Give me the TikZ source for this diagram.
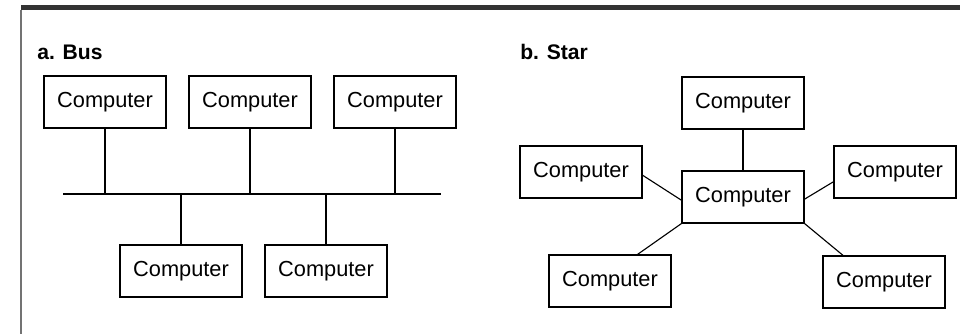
\documentclass[tikz,border=0pt]{standalone}
\usepackage{fontspec}
\setmainfont{Liberation Sans}
\usepackage{tikz}

\begin{document}
\begin{tikzpicture}[x=0.025cm, y=-0.025cm] % one unit is one pixel of the page, y going down
    % Styles for the boxes and the lines
    \tikzset{
      pc/.style={draw, line width=0.8pt, minimum width=3.05cm, minimum height=1.3cm, inner sep=0pt, font=\fontsize{15.5}{18}\selectfont},
      ttl/.style={anchor=base west, inner sep=0pt, font=\fontsize{15}{18}\selectfont\bfseries},
      wire/.style={line width=0.8pt}
    }
    \useasboundingbox (0,0) rectangle (960,334);

    % Scanned page edge
    \fill[black!80] (21,5) rectangle (960,10);
    \draw[black!55, line width=1pt] (21,10) -- (21,334);

    % Height of the bus line
    \pgfmathsetmacro{\busY}{194}

    % a. Bus
    \node[ttl] (busttl) at (37,60) {a. Bus};
    \node[pc] (bus1) at (105,102) {Computer};
    \node[pc] (bus2) at (250,102) {Computer};
    \node[pc] (bus3) at (395,102) {Computer};
    \node[pc] (bus4) at (181,271) {Computer};
    \node[pc] (bus5) at (326,271) {Computer};
    \coordinate (busL) at (63,\busY);
    \coordinate (busR) at (441,\busY);

    \draw[wire] (busL) -- (busR);
    \draw[wire] (bus1.south) -- (bus1.south |- busL);
    \draw[wire] (bus2.south) -- (bus2.south |- busL);
    \draw[wire] (bus3.south) -- (bus3.south |- busL);
    \draw[wire] (bus4.north) -- (bus4.north |- busL);
    \draw[wire] (bus5.north) -- (bus5.north |- busL);

    % b. Star
    \node[ttl] (starttl) at (520,60) {b. Star};
    \node[pc] (hub) at (743,197) {Computer};
    \node[pc] (top) at (743,103) {Computer};
    \node[pc] (lft) at (581,172) {Computer};
    \node[pc] (rgt) at (895,172) {Computer};
    \node[pc] (botl) at (610,281) {Computer};
    \node[pc] (botr) at (884,282) {Computer};

    \draw[wire] (top.south) -- (hub.north);
    \draw[wire] (lft.-3) -- (hub.183);
    \draw[wire] (hub.-2) -- (rgt.189);
    \draw[wire] (hub.south west) -- (botl.44);
    \draw[wire] (hub.south east) -- (botr.147);
\end{tikzpicture}
\end{document}
